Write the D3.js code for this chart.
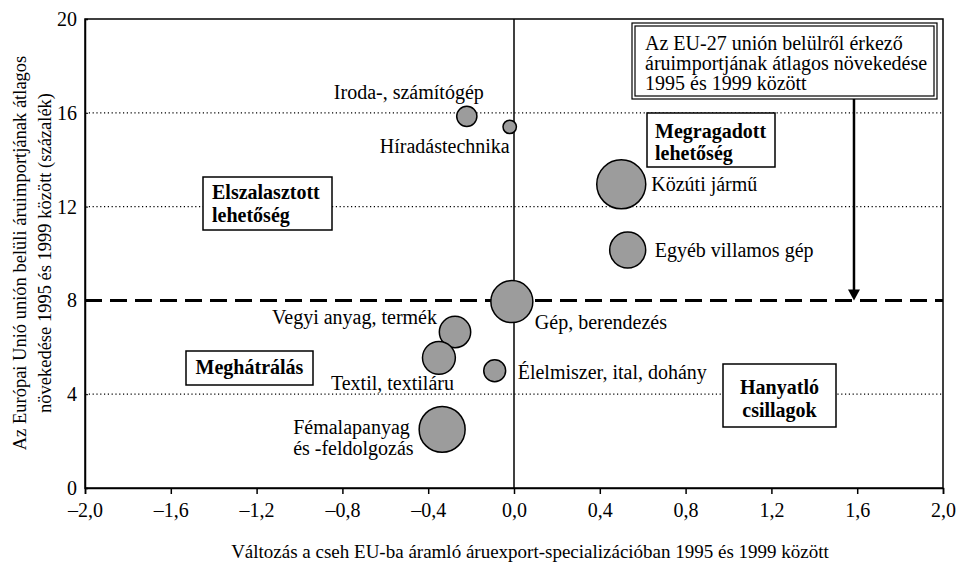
<!DOCTYPE html>
<html><head><meta charset="utf-8">
<script src="https://cdn.jsdelivr.net/npm/d3@7/dist/d3.min.js"></script>
<style>
body{margin:0;background:#fff;}
text{font-family:"Liberation Serif","Times New Roman",serif;fill:#000;}
</style></head>
<body><svg id="c" width="959" height="566"></svg>
<script>
// ---- data ----
const categories = ["Iroda-, számítógép","Híradástechnika","Közúti jármű","Egyéb villamos gép","Gép, berendezés","Vegyi anyag, termék","Textil, textiláru","Élelmiszer, ital, dohány","Fémalapanyag\nés -feldolgozás"];
const exportChange = [-0.22, -0.02, 0.50, 0.53, -0.01, -0.275, -0.35, -0.09, -0.335];
const importGrowth = [15.85, 15.4, 12.95, 10.15, 7.95, 6.65, 5.55, 5.0, 2.5];
const weight = [1.7, 0.75, 10.0, 5.4, 7.35, 4.1, 4.5, 2.0, 8.8];
const xTicks = [-2.0,-1.6,-1.2,-0.8,-0.4,0,0.4,0.8,1.2,1.6,2.0];
const yTicks = [0,4,8,12,16,20];
const gridLevels = [4,12,16];
const euAverage = 8;
const arrowX = 1.585;
const quadrantLabels = [["Elszalasztott","lehetőség"],["Megragadott","lehetőség"],["Meghátrálás"],["Hanyatló","csillagok"]];
const annotationLines = ["Az EU-27 unión belülről érkező","áruimportjának átlagos növekedése","1995 és 1999 között"];
const xTitle = "Változás a cseh EU-ba áramló áruexport-specializációban 1995 és 1999 között";
const yTitle = ["Az Európai Unió unión belüli áruimportjának átlagos","növekedése 1995 és 1999 között (százalék)"];

// ---- layout ----
const svg = d3.select("#c");
const m = {l:85, r:943, t:19, b:488};
const x = d3.scaleLinear().domain([-2,2]).range([m.l,m.r]);
const y = d3.scaleLinear().domain([0,20]).range([m.b,m.t]);
const r = d3.scaleSqrt().domain([0,10]).range([0,24.5]);
const fmt = v => v===0 ? "0,0" : (v<0?"\u2013":"") + d3.format(".1f")(Math.abs(v)).replace(".",",");

// grid dotted
svg.append("g").selectAll("line").data(gridLevels).join("line")
  .attr("x1",m.l).attr("x2",m.r).attr("y1",d=>y(d)).attr("y2",d=>y(d))
  .attr("stroke","#000").attr("stroke-width",1.2).attr("stroke-dasharray","1.2 2.6");

// vertical zero line
svg.append("line").attr("x1",x(0)).attr("x2",x(0)).attr("y1",m.t).attr("y2",m.b)
  .attr("stroke","#000").attr("stroke-width",1.5);

// axes
const xa = svg.append("g").attr("transform",`translate(0,${m.b})`)
  .call(d3.axisBottom(x).tickValues(xTicks).tickFormat(fmt).tickSize(6).tickPadding(9));
xa.select(".domain").attr("stroke-width",1.5);
xa.selectAll(".tick line").attr("stroke-width",1.5);
xa.selectAll("text").style("font-size","20px").style("font-family","Liberation Serif");
const ya = svg.append("g").attr("transform",`translate(${m.l},0)`)
  .call(d3.axisLeft(y).tickValues(yTicks).tickFormat(d=>d).tickSize(-3).tickPadding(8));
ya.select(".domain").attr("stroke-width",1.5);
ya.selectAll("text").style("font-size","20px").style("font-family","Liberation Serif");
// frame
svg.append("rect").attr("x",m.l).attr("y",m.t).attr("width",m.r-m.l).attr("height",m.b-m.t)
  .attr("fill","none").attr("stroke","#000").attr("stroke-width",1.5);

// dashed average line
svg.append("line").attr("x1",m.l).attr("x2",m.r).attr("y1",y(euAverage)).attr("y2",y(euAverage))
  .attr("stroke","#000").attr("stroke-width",3).attr("stroke-dasharray","17 8");

// quadrant boxes
const qBoxes = [
  {x:203,y:177,w:129,h:53,anchor:"start",tx:212,lines:[192,215]},
  {x:647,y:113,w:128,h:54,anchor:"start",tx:655,lines:[131,153]},
  {x:186,y:351,w:127,h:34,anchor:"middle",tx:249.5,lines:[367]},
  {x:723,y:364,w:113,h:63,anchor:"middle",tx:779.5,lines:[387,410]}
];
qBoxes.forEach((b,i)=>{
  svg.append("rect").attr("x",b.x).attr("y",b.y).attr("width",b.w).attr("height",b.h)
    .attr("fill","#fff").attr("stroke","#000").attr("stroke-width",1.5);
  quadrantLabels[i].forEach((t,j)=>{
    svg.append("text").attr("x",b.tx).attr("y",b.lines[j]).attr("text-anchor",b.anchor)
      .attr("dominant-baseline","central").style("font-size","20px").style("font-weight","bold").text(t);
  });
});

// annotation box
const ab = {x:632,y:23,w:305,h:76};
svg.append("rect").attr("x",ab.x).attr("y",ab.y).attr("width",ab.w).attr("height",ab.h)
  .attr("fill","#fff").attr("stroke","#000").attr("stroke-width",1.2);
svg.append("rect").attr("x",ab.x+3).attr("y",ab.y+3).attr("width",ab.w-6).attr("height",ab.h-6)
  .attr("fill","none").attr("stroke","#000").attr("stroke-width",1.2);
annotationLines.forEach((t,i)=>{
  svg.append("text").attr("x",645).attr("y",43+i*20).attr("dominant-baseline","central")
    .style("font-size","20px").text(t);
});
// arrow
svg.append("line").attr("x1",x(arrowX)).attr("x2",x(arrowX)).attr("y1",ab.y+ab.h).attr("y2",y(euAverage)-10)
  .attr("stroke","#000").attr("stroke-width",2.5);
svg.append("path").attr("d",`M${x(arrowX)-6},${y(euAverage)-11} L${x(arrowX)+6},${y(euAverage)-11} L${x(arrowX)},${y(euAverage)} Z`).attr("fill","#000");

// bubbles
const data = categories.map((c,i)=>({c, x:exportChange[i], y:importGrowth[i], w:weight[i]}));
svg.append("g").selectAll("circle").data(data).join("circle")
  .attr("cx",d=>x(d.x)).attr("cy",d=>y(d.y)).attr("r",d=>r(d.w))
  .attr("fill","#9c9c9c").attr("stroke","#000").attr("stroke-width",1.5);

// labels (offsets in px relative to bubble centre)
const labelOffsets = [
  {dx:-58,dy:-24,a:"middle"},{dx:0,dy:19,a:"end"},{dx:30,dy:0,a:"start"},{dx:27,dy:0,a:"start"},
  {dx:23,dy:20,a:"start"},{dx:-18,dy:-15,a:"end"},{dx:15,dy:25,a:"end"},{dx:23,dy:1,a:"start"},
  {dx:-149,dy:-2,a:"start"}
];
data.forEach((d,i)=>{
  const o = labelOffsets[i];
  d.c.split("\n").forEach((t,j)=>{
    svg.append("text").attr("x",x(d.x)+o.dx).attr("y",y(d.y)+o.dy+j*20.5).attr("text-anchor",o.a)
      .attr("dominant-baseline","central").style("font-size","20px").text(t);
  });
});

// axis titles
svg.append("text").attr("x",530).attr("y",551).attr("text-anchor","middle")
  .attr("dominant-baseline","central").style("font-size","19px").text(xTitle);
yTitle.forEach((t,i)=>{
  svg.append("text").attr("transform",`translate(${20+i*25},253) rotate(-90)`).attr("text-anchor","middle")
    .attr("dominant-baseline","central").style("font-size","18.5px").text(t);
});
</script></body></html>
